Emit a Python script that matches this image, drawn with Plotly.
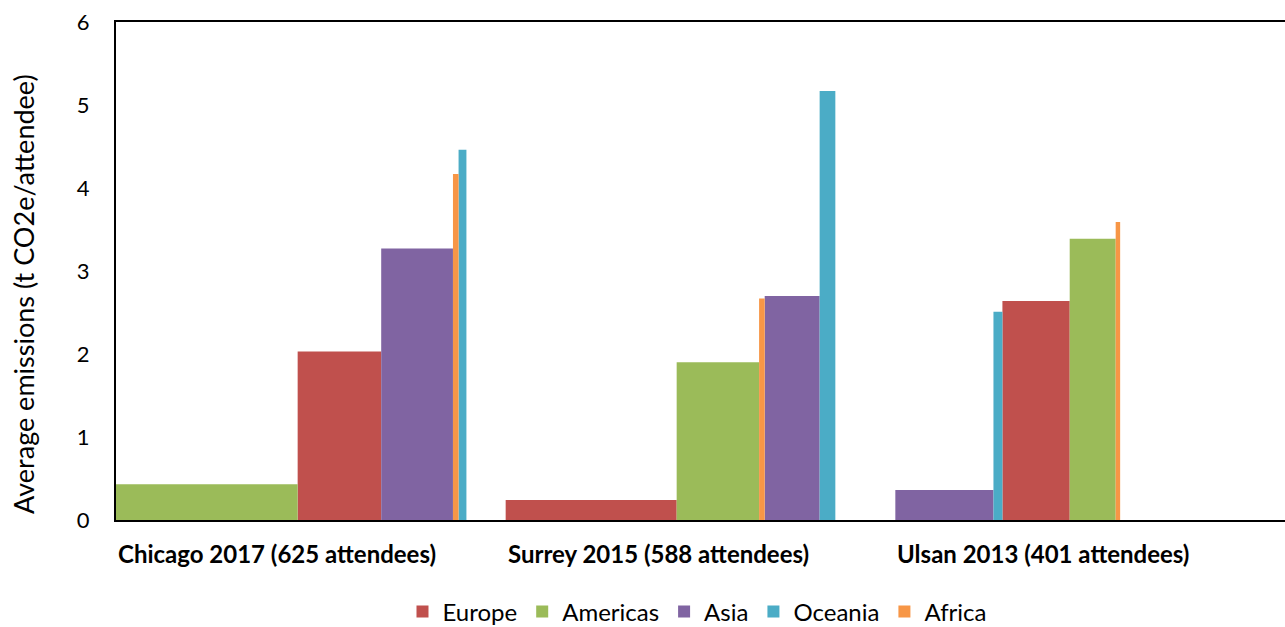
import plotly.graph_objects as go

conferences = ["Chicago 2017 (625 attendees)", "Surrey 2015 (588 attendees)", "Ulsan 2013 (401 attendees)"]
regions = ["Europe", "Americas", "Asia", "Oceania", "Africa"]

# average emissions (t CO2e/attendee) per region, per conference
emissions = {
    "Europe":   [2.03, 0.24, 2.64],
    "Americas": [0.43, 1.90, 3.39],
    "Asia":     [3.27, 2.70, 0.36],
    "Oceania":  [4.46, 5.17, 2.51],
    "Africa":   [4.17, 2.67, 3.59],
}
# number of attendees per region, per conference (bar widths)
attendees = {
    "Europe":   [149, 305, 120],
    "Americas": [324, 147, 82],
    "Asia":     [128, 98, 175],
    "Oceania":  [14, 28, 16],
    "Africa":   [10, 10, 8],
}
y_title = "Average emissions (t CO2e/attendee)"

colors = {
    "Europe": "#C0504D",
    "Americas": "#9BBB59",
    "Asia": "#8064A2",
    "Oceania": "#4BACC6",
    "Africa": "#F79646",
}

SLOT = 695  # category slot width in attendee units
FONT = "Lato, 'Open Sans', sans-serif"

# compute bar centres: within each conference, bars sorted by emission ascending, placed side by side
centers = {r: [0.0] * len(conferences) for r in regions}
for j in range(len(conferences)):
    order = sorted(regions, key=lambda r: emissions[r][j])
    left = j * SLOT
    for r in order:
        w = attendees[r][j]
        centers[r][j] = left + w / 2
        left += w

fig = go.Figure()
for r in regions:
    fig.add_trace(go.Bar(
        name=r,
        x=centers[r],
        y=emissions[r],
        width=attendees[r],
        marker=dict(color=colors[r], line=dict(width=0)),
    ))

for j, c in enumerate(conferences):
    fig.add_annotation(
        x=j * SLOT, xref="x", xanchor="left",
        y=0, yref="paper", yanchor="middle", yshift=-33,
        text="<b>%s</b>" % c, showarrow=False,
        font=dict(family=FONT, size=24, color="black"),
    )

# y-axis title (placed as rotated annotation to match original vertical offset)
fig.add_annotation(
    x=0, xref="paper", xanchor="center", xshift=-92,
    y=0.454, yref="paper", yanchor="middle",
    text=y_title, textangle=-90, showarrow=False,
    font=dict(family=FONT, size=27, color="black"),
)

fig.update_layout(
    width=1285, height=627,
    margin=dict(l=116, r=0, t=22, b=107, autoexpand=False),
    paper_bgcolor="white", plot_bgcolor="white",
    barmode="overlay",
    font=dict(family=FONT, size=22, color="black"),
    showlegend=True,
    legend=dict(orientation="h", x=0.497, xanchor="center", xref="paper",
                y=0.024, yref="container", yanchor="middle",
                font=dict(family=FONT, size=24), itemwidth=30, traceorder="normal"),
    xaxis=dict(range=[0, 3 * SLOT], showticklabels=False, showgrid=False, zeroline=False,
               showline=True, linecolor="black", linewidth=2, mirror=True, ticks="",
               automargin=False),
    yaxis=dict(range=[0, 6], dtick=1, showgrid=False, zeroline=False,
               showline=True, linecolor="black", linewidth=2, ticks="",
               ticklabelstandoff=20, automargin=False,
               tickfont=dict(family=FONT, size=22)),
)

fig.write_html("out.html", config={"displayModeBar": False},
               post_script="document.body.style.margin='0';document.body.style.overflow='hidden';")
